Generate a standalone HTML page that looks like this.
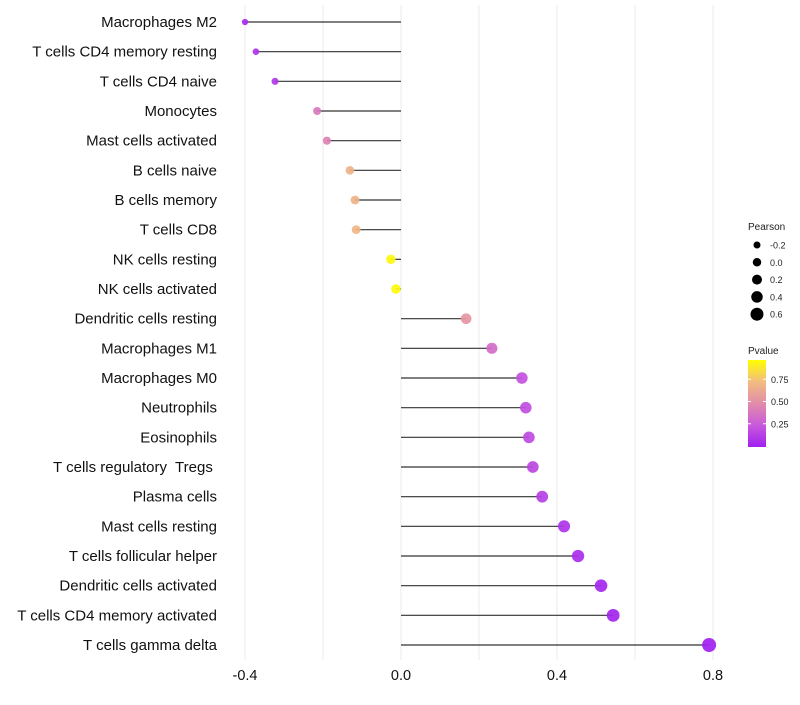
<!DOCTYPE html>
<html><head><meta charset="utf-8"><style>
body{margin:0;background:#fff;font-family:"Liberation Sans",sans-serif;}
text{white-space:pre;}
</style></head><body>
<svg id="chart" width="800" height="700"></svg>
<script>
const categories=["Macrophages M2","T cells CD4 memory resting","T cells CD4 naive","Monocytes","Mast cells activated","B cells naive","B cells memory","T cells CD8","NK cells resting","NK cells activated","Dendritic cells resting","Macrophages M1","Macrophages M0","Neutrophils","Eosinophils","T cells regulatory  Tregs ","Plasma cells","Mast cells resting","T cells follicular helper","Dendritic cells activated","T cells CD4 memory activated","T cells gamma delta"];
const pearson=[-0.40,-0.372,-0.323,-0.215,-0.19,-0.131,-0.118,-0.115,-0.026,-0.013,0.167,0.233,0.31,0.32,0.328,0.338,0.362,0.418,0.454,0.513,0.544,0.79];
const pvalue=[0.05,0.08,0.1,0.4,0.45,0.7,0.7,0.72,0.97,0.98,0.55,0.35,0.22,0.2,0.19,0.17,0.14,0.09,0.06,0.03,0.02,0.005];
const xTicks=[-0.4,0.0,0.4,0.8];
const sizeTicks=[-0.2,0.0,0.2,0.4,0.6];
const colorTicks=[0.25,0.5,0.75];

const NS="http://www.w3.org/2000/svg";
const svg=document.getElementById('chart');
function mk(t,a,p){const e=document.createElementNS(NS,t);for(const k in a)e.setAttribute(k,a[k]);(p||svg).appendChild(e);return e;}
const x=v=>401+(v-0)*390;
const y=i=>22+i*(623/21);
const r=v=>Math.sqrt(Math.max(3,16+(v+0.215)*32.8));
const stops=[[0,[160,32,240]],[0.25,[200,90,220]],[0.5,[226,140,170]],[0.75,[242,188,128]],[1,[255,255,0]]];
function col(p){for(let i=1;i<stops.length;i++){if(p<=stops[i][0]){const a=stops[i-1],b=stops[i],t=(p-a[0])/(b[0]-a[0]);return 'rgb('+a[1].map((c,j)=>Math.round(c+(b[1][j]-c)*t)).join(',')+')';}}return 'rgb(255,255,0)';}

[-0.4,-0.2,0,0.2,0.4,0.6,0.8].forEach(v=>{const g=mk('line',{x1:x(v),x2:x(v),y1:5,y2:660,stroke:'#ebebeb','stroke-width':1});
});
xTicks.forEach(v=>{const t=mk('text',{x:x(v),y:680,'text-anchor':'middle','font-size':14.5,fill:'#111'});t.textContent=v.toFixed(1);
});

categories.forEach((c,i)=>{
 const t=mk('text',{x:217,y:y(i)+5,'text-anchor':'end','font-size':15,fill:'#111'});t.textContent=c;
 
 const l=mk('line',{x1:x(0),x2:x(pearson[i]),y1:y(i),y2:y(i),stroke:'#333','stroke-width':1.2});
 
 const d=mk('circle',{cx:x(pearson[i]),cy:y(i),r:r(pearson[i]),fill:col(pvalue[i]),'fill-opacity':0.92});
 
});

const lt=mk('text',{x:748,y:230,'font-size':10,fill:'#222'});lt.textContent='Pearson';

sizeTicks.forEach((v,i)=>{const cy=245+i*17.3;
 const c=mk('circle',{cx:757,cy:cy,r:3.5+(v+0.2)*3.75,fill:'#000'});
 const t=mk('text',{x:770,y:cy+3.5,'font-size':9,fill:'#222'});t.textContent=v.toFixed(1);
 });

const ct=mk('text',{x:748,y:354,'font-size':10,fill:'#222'});ct.textContent='Pvalue';

const defs=mk('defs',{});const lg=mk('linearGradient',{id:'pg',x1:0,y1:1,x2:0,y2:0},defs);
stops.forEach(s=>mk('stop',{offset:s[0],'stop-color':col(s[0])},lg));
const cb=mk('rect',{x:748,y:360,width:18,height:87,fill:'url(#pg)'});

const cy=v=>446-v*89;
colorTicks.forEach(v=>{mk('line',{x1:748,x2:751,y1:cy(v),y2:cy(v),stroke:'#fff'});mk('line',{x1:763,x2:766,y1:cy(v),y2:cy(v),stroke:'#fff'});
 const t=mk('text',{x:771,y:cy(v)+3.5,'font-size':9,fill:'#222'});t.textContent=v.toFixed(2);
 });
</script>
</body></html>
